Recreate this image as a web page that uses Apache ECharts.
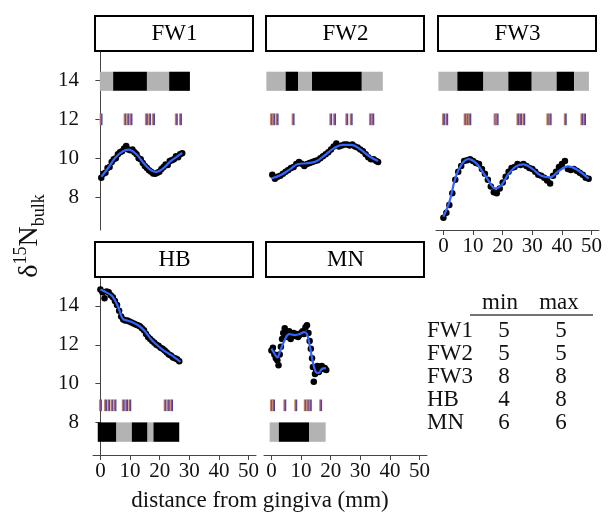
<!DOCTYPE html>
<html>
<head>
<meta charset="utf-8">
<script src="https://cdn.jsdelivr.net/npm/echarts@6/dist/echarts.min.js"></script>
<style>html,body{margin:0;padding:0;background:#fff}#chart{width:613px;height:524px}</style>
</head>
<body>
<div id="chart"></div>
<script>
// panels
const panelNames = ['FW1', 'FW2', 'FW3', 'HB', 'MN'];
const xTicks = [0, 10, 20, 30, 40, 50];
const yTicks = [8, 10, 12, 14];

// measured points (distance mm, d15N)
const fw1X = [0.3, 1.0, 1.7, 2.4, 3.1, 3.8, 4.5, 5.2, 5.9, 6.6, 7.3, 8.0, 8.7, 9.4, 10.1, 10.8, 11.5, 12.2, 12.9, 13.6, 14.3, 15.0, 15.7, 16.4, 17.1, 17.8, 18.5, 19.2, 19.9, 20.6, 21.3, 22.0, 22.7, 23.4, 24.1, 24.8, 25.5, 26.2, 26.9, 27.6];
const fw1Y = [9.0, 9.2, 9.25, 9.5, 9.55, 9.8, 9.95, 10.0, 10.2, 10.3, 10.35, 10.5, 10.62, 10.45, 10.4, 10.45, 10.3, 10.2, 10.0, 9.95, 9.75, 9.6, 9.5, 9.38, 9.3, 9.22, 9.2, 9.25, 9.3, 9.45, 9.55, 9.68, 9.65, 9.85, 9.9, 9.95, 10.1, 10.05, 10.2, 10.25];
const fw2X = [0.3, 1.2, 2.1, 3.0, 3.9, 4.8, 5.7, 6.6, 7.5, 8.4, 9.3, 10.2, 11.1, 12.0, 12.9, 13.8, 14.7, 15.6, 16.5, 17.4, 18.3, 19.2, 20.1, 21.0, 21.9, 22.8, 23.7, 24.6, 25.5, 26.4, 27.3, 28.2, 29.1, 30.0, 30.9, 31.8, 32.7, 33.6, 34.5, 35.4, 36.0];
const fw2Y = [9.15, 8.95, 9.05, 9.1, 9.2, 9.3, 9.4, 9.5, 9.55, 9.7, 9.8, 9.72, 9.6, 9.7, 9.75, 9.8, 9.85, 9.9, 10.0, 10.1, 10.2, 10.3, 10.45, 10.6, 10.75, 10.6, 10.65, 10.7, 10.7, 10.65, 10.7, 10.6, 10.55, 10.45, 10.35, 10.2, 10.05, 9.95, 9.95, 9.85, 9.8];
const fw3X = [0, 1, 2, 3, 4, 5, 6, 7, 8, 9, 10, 11, 12, 13, 14, 15, 16, 17, 18, 19, 20, 21, 22, 23, 24, 25, 26, 27, 28, 29, 30, 31, 32, 33, 34, 35, 36, 37, 38, 39, 40, 41, 42, 43, 44, 45, 46, 47, 48, 49];
const fw3Y = [6.95, 7.2, 7.6, 8.2, 8.9, 9.3, 9.6, 9.85, 9.9, 9.95, 9.85, 9.75, 9.7, 9.45, 9.2, 8.9, 8.55, 8.25, 8.2, 8.45, 8.75, 9.05, 9.3, 9.5, 9.55, 9.7, 9.65, 9.7, 9.6, 9.5, 9.45, 9.3, 9.15, 9.1, 9.0, 8.85, 8.7, 9.1, 9.3, 9.55, 9.7, 9.85, 9.45, 9.4, 9.45, 9.35, 9.25, 9.15, 9.0, 8.95];
const hbX = [0.0, 0.7, 1.4, 2.1, 2.8, 3.5, 4.2, 4.9, 5.6, 6.3, 7.0, 7.7, 8.4, 9.1, 9.8, 10.5, 11.2, 11.9, 12.6, 13.3, 14.0, 14.7, 15.4, 16.1, 16.8, 17.5, 18.2, 18.9, 19.6, 20.3, 21.0, 21.7, 22.4, 23.1, 23.8, 24.5, 25.2, 25.9, 26.6];
const hbY = [14.85, 14.7, 14.4, 14.75, 14.7, 14.55, 14.45, 14.25, 14.05, 13.75, 13.45, 13.3, 13.25, 13.25, 13.2, 13.15, 13.1, 13.05, 13.0, 12.95, 12.85, 12.75, 12.55, 12.4, 12.3, 12.2, 12.1, 12.0, 11.95, 11.85, 11.8, 11.7, 11.6, 11.5, 11.45, 11.35, 11.3, 11.25, 11.15];
const mnX = [0.0, 0.5, 1.0, 1.5, 2.0, 2.4, 2.8, 3.2, 3.6, 4.0, 4.5, 5.0, 5.5, 6.0, 6.5, 7.0, 7.5, 8.0, 8.5, 9.0, 9.5, 10.0, 10.5, 11.0, 11.5, 12.0, 12.5, 12.9, 13.3, 13.7, 14.0, 14.3, 14.7, 15.1, 15.5, 16.0, 16.5, 17.0, 17.5, 18.0, 18.5];
const mnY = [11.7, 11.85, 11.5, 11.3, 11.2, 10.95, 11.5, 11.9, 12.3, 12.6, 12.85, 12.5, 12.4, 12.7, 12.3, 12.5, 12.6, 12.45, 12.55, 12.4, 12.5, 12.6, 12.7, 12.55, 12.9, 13.0, 12.6, 12.2, 11.8, 11.3, 10.85, 10.1, 10.5, 10.7, 10.9, 10.6, 10.75, 10.9, 10.75, 10.8, 10.7];

// smoothed fit
const fw1SmX = [0.3, 2.5, 5, 7.5, 9.5, 12, 14.5, 17, 19, 21, 23.5, 25.5, 27.6];
const fw1SmY = [9.05, 9.47, 10.02, 10.35, 10.44, 10.22, 9.77, 9.39, 9.3, 9.45, 9.82, 10.04, 10.27];
const fw2SmX = [0, 3, 6, 9, 12, 15, 18, 21, 24, 27, 30, 33, 36];
const fw2SmY = [8.96, 9.12, 9.4, 9.7, 9.74, 9.83, 10.15, 10.5, 10.68, 10.68, 10.45, 10.1, 9.85];
const fw3SmX = [0, 2, 4, 6, 8.5, 11, 13, 15, 17.5, 19.5, 22, 24.5, 27, 30, 33, 36, 39, 42, 45, 49];
const fw3SmY = [7.0, 7.75, 8.95, 9.65, 9.95, 9.75, 9.35, 8.9, 8.45, 8.6, 9.2, 9.58, 9.68, 9.45, 9.1, 9.02, 9.35, 9.58, 9.42, 8.95];
const hbSmX = [0, 2, 4, 6, 7.5, 9, 11, 13, 15, 17, 19, 21, 23, 25, 27];
const hbSmY = [14.85, 14.7, 14.5, 13.95, 13.35, 13.25, 13.15, 12.98, 12.7, 12.3, 12.0, 11.75, 11.55, 11.35, 11.12];
const mnSmX = [0, 1, 2, 3, 4.5, 6, 8, 9.5, 11, 12, 13, 14, 15, 16, 17, 18.4];
const mnSmY = [11.8, 11.55, 11.35, 11.7, 12.25, 12.55, 12.5, 12.55, 12.65, 12.55, 11.9, 11.1, 10.6, 10.55, 10.75, 10.8];

// bands [start, end, state] (state 1 = black, 0 = grey)
const fw1Bands = [[-0.2, 4.3, 0], [4.3, 15.7, 1], [15.7, 23.2, 0], [23.2, 30.2, 1]];
const fw2Bands = [[-1.7, 4.8, 0], [4.8, 9.0, 1], [9.0, 13.7, 0], [13.7, 30.5, 1], [30.5, 37.6, 0]];
const fw3Bands = [[-1.7, 4.7, 0], [4.7, 13.5, 1], [13.5, 21.9, 0], [21.9, 29.8, 1], [29.8, 38.2, 0], [38.2, 44.1, 1], [44.1, 49.1, 0]];
const hbBands = [[-0.9, 5.4, 1], [5.4, 10.6, 0], [10.6, 15.9, 1], [15.9, 17.9, 0], [17.9, 26.6, 1]];
const mnBands = [[-0.6, 2.5, 0], [2.5, 12.7, 1], [12.7, 18.3, 0]];

// sample ticks (mm)
const fw1Ticks = [0.2, 8.3, 9.3, 10.3, 15.5, 16.6, 17.9, 25.6, 27.0];
const fw2Ticks = [0.0, 0.8, 1.9, 7.3, 20.0, 21.3, 25.4, 26.9, 33.4, 34.2];
const fw3Ticks = [0.0, 1.1, 7.3, 8.1, 8.9, 17.4, 18.1, 25.1, 26.0, 27.1, 35.2, 36.0, 41.1, 46.7, 47.6];
const hbTicks = [0.0, 1.7, 2.8, 3.9, 4.9, 7.7, 8.8, 9.9, 21.8, 22.9, 24.0];
const mnTicks = [0.0, 0.7, 4.5, 8.2, 11.4, 12.3, 13.1, 16.6];

// table
const tableNames = ['FW1', 'FW2', 'FW3', 'HB', 'MN'];
const tableMin = [5, 5, 8, 4, 6];
const tableMax = [5, 5, 8, 8, 6];

const panels = [
  {pX: fw1X, pY: fw1Y, sX: fw1SmX, sY: fw1SmY, bands: fw1Bands, ticks: fw1Ticks, row: 0},
  {pX: fw2X, pY: fw2Y, sX: fw2SmX, sY: fw2SmY, bands: fw2Bands, ticks: fw2Ticks, row: 0},
  {pX: fw3X, pY: fw3Y, sX: fw3SmX, sY: fw3SmY, bands: fw3Bands, ticks: fw3Ticks, row: 0},
  {pX: hbX, pY: hbY, sX: hbSmX, sY: hbSmY, bands: hbBands, ticks: hbTicks, row: 1},
  {pX: mnX, pY: mnY, sX: mnSmX, sY: mnSmY, bands: mnBands, ticks: mnTicks, row: 1}
];

const grids = [
  {left: 93, top: 52, width: 163, height: 178},
  {left: 264, top: 52, width: 163, height: 178},
  {left: 436, top: 52, width: 163, height: 178},
  {left: 93, top: 278, width: 163, height: 177},
  {left: 264, top: 278, width: 163, height: 177}
];
// y-extent of band rows and tick rows, per panel row
const bandY = [[13.45, 14.43], [7.0, 8.0]];
const tickY = [[11.69, 12.29], [8.58, 9.18]];

const serif = '"Liberation Serif", "DejaVu Serif", serif';
const axisCol = '#444';

let chartDom = document.getElementById('chart');
let myChart = echarts.init(chartDom);

function pairs(xs, ys) {
  return xs.map((x, i) => [x, ys[i]]);
}

function bandItem(row) {
  return function (params, api) {
    const a = api.coord([api.value(0), bandY[row][1]]);
    const b = api.coord([api.value(1), bandY[row][0]]);
    return {
      type: 'rect',
      shape: {x: a[0], y: a[1], width: b[0] - a[0], height: b[1] - a[1]},
      style: {fill: api.value(2) ? '#000' : '#b3b3b3'}
    };
  };
}

function tickItem(row) {
  return function (params, api) {
    const a = api.coord([api.value(0), tickY[row][1]]);
    const b = api.coord([api.value(0), tickY[row][0]]);
    return {
      type: 'rect',
      shape: {x: a[0] - 1.5, y: a[1], width: 3, height: b[1] - a[1]},
      style: {
        fill: new echarts.graphic.LinearGradient(0, 0, 1, 0, [
          {offset: 0, color: '#e3a55a'},
          {offset: 0.5, color: '#8a4f8e'},
          {offset: 1, color: '#2b3c9e'}
        ])
      }
    };
  };
}

let xAxes = [], yAxes = [], series = [], graphic = [];

panels.forEach((p, i) => {
  xAxes.push({
    gridIndex: i, type: 'value', min: -2.5, max: 52.5,
    show: i >= 2,
    axisLine: {show: true, lineStyle: {color: axisCol}},
    axisTick: {show: true, customValues: xTicks, length: 5, lineStyle: {color: axisCol}},
    axisLabel: {customValues: xTicks, fontFamily: serif, fontSize: 21, color: '#111', margin: 6},
    splitLine: {show: false}
  });
  yAxes.push({
    gridIndex: i, type: 'value', min: 6.32, max: 15.44,
    show: i === 0 || i === 3,
    axisLine: {show: true, lineStyle: {color: axisCol}},
    axisTick: {show: true, customValues: yTicks, length: 5, lineStyle: {color: axisCol}},
    axisLabel: {customValues: yTicks, fontFamily: serif, fontSize: 21, color: '#111', margin: 14},
    splitLine: {show: false}
  });

  series.push({
    type: 'custom', xAxisIndex: i, yAxisIndex: i,
    renderItem: bandItem(p.row), encode: {x: [0, 1]},
    data: p.bands, silent: true
  });
  series.push({
    type: 'custom', xAxisIndex: i, yAxisIndex: i,
    renderItem: tickItem(p.row), encode: {x: 0},
    data: p.ticks.map(t => [t]), silent: true
  });
  series.push({
    type: 'scatter', xAxisIndex: i, yAxisIndex: i,
    data: pairs(p.pX, p.pY), symbolSize: 6.5,
    itemStyle: {color: '#000', opacity: 1}, silent: true
  });
  series.push({
    type: 'line', xAxisIndex: i, yAxisIndex: i,
    data: pairs(p.sX, p.sY), smooth: 0.4, showSymbol: false,
    lineStyle: {color: '#3366FF', width: 2.2}, silent: true
  });

  // strip header
  const g = grids[i];
  graphic.push({
    type: 'rect',
    shape: {x: g.left + 2, y: g.top - 36, width: g.width - 5, height: 35},
    style: {fill: '#fff', stroke: '#000', lineWidth: 2}
  });
  graphic.push({
    type: 'text', x: g.left + g.width / 2, y: g.top - 18,
    style: {text: panelNames[i], font: '23px ' + serif, fill: '#000', align: 'center', verticalAlign: 'middle'}
  });
});

// axis titles
graphic.push({
  type: 'text', x: 260, y: 501,
  style: {text: 'distance from gingiva (mm)', font: '23px ' + serif, fill: '#111', align: 'center', verticalAlign: 'middle'}
});
graphic.push({
  type: 'text', x: 30, y: 236, rotation: Math.PI / 2,
  style: {
    text: '{n|δ}{s|15}{n|N}{b|bulk}',
    align: 'center', verticalAlign: 'middle',
    rich: {
      n: {font: '28px ' + serif, fill: '#111', lineHeight: 36, verticalAlign: 'middle'},
      s: {font: '18px ' + serif, fill: '#111', verticalAlign: 'top'},
      b: {font: '18px ' + serif, fill: '#111', verticalAlign: 'bottom'}
    }
  }
});

// min/max table
graphic.push({
  type: 'text', x: 500, y: 303,
  style: {text: 'min', font: '23px ' + serif, fill: '#111', align: 'center', verticalAlign: 'middle'}
});
graphic.push({
  type: 'text', x: 559, y: 303,
  style: {text: 'max', font: '23px ' + serif, fill: '#111', align: 'center', verticalAlign: 'middle'}
});
graphic.push({
  type: 'line', shape: {x1: 470, y1: 315, x2: 593, y2: 315},
  style: {stroke: '#444', lineWidth: 1.5}
});
tableNames.forEach((n, k) => {
  const y = 331 + k * 23;
  graphic.push({type: 'text', x: 427, y: y, style: {text: n, font: '23px ' + serif, fill: '#111', align: 'left', verticalAlign: 'middle'}});
  graphic.push({type: 'text', x: 504, y: y, style: {text: String(tableMin[k]), font: '23px ' + serif, fill: '#111', align: 'center', verticalAlign: 'middle'}});
  graphic.push({type: 'text', x: 561, y: y, style: {text: String(tableMax[k]), font: '23px ' + serif, fill: '#111', align: 'center', verticalAlign: 'middle'}});
});

let option = {
  animation: false,
  backgroundColor: '#fff',
  grid: grids,
  xAxis: xAxes,
  yAxis: yAxes,
  series: series,
  graphic: graphic
};

option && myChart.setOption(option);
</script>
</body>
</html>
